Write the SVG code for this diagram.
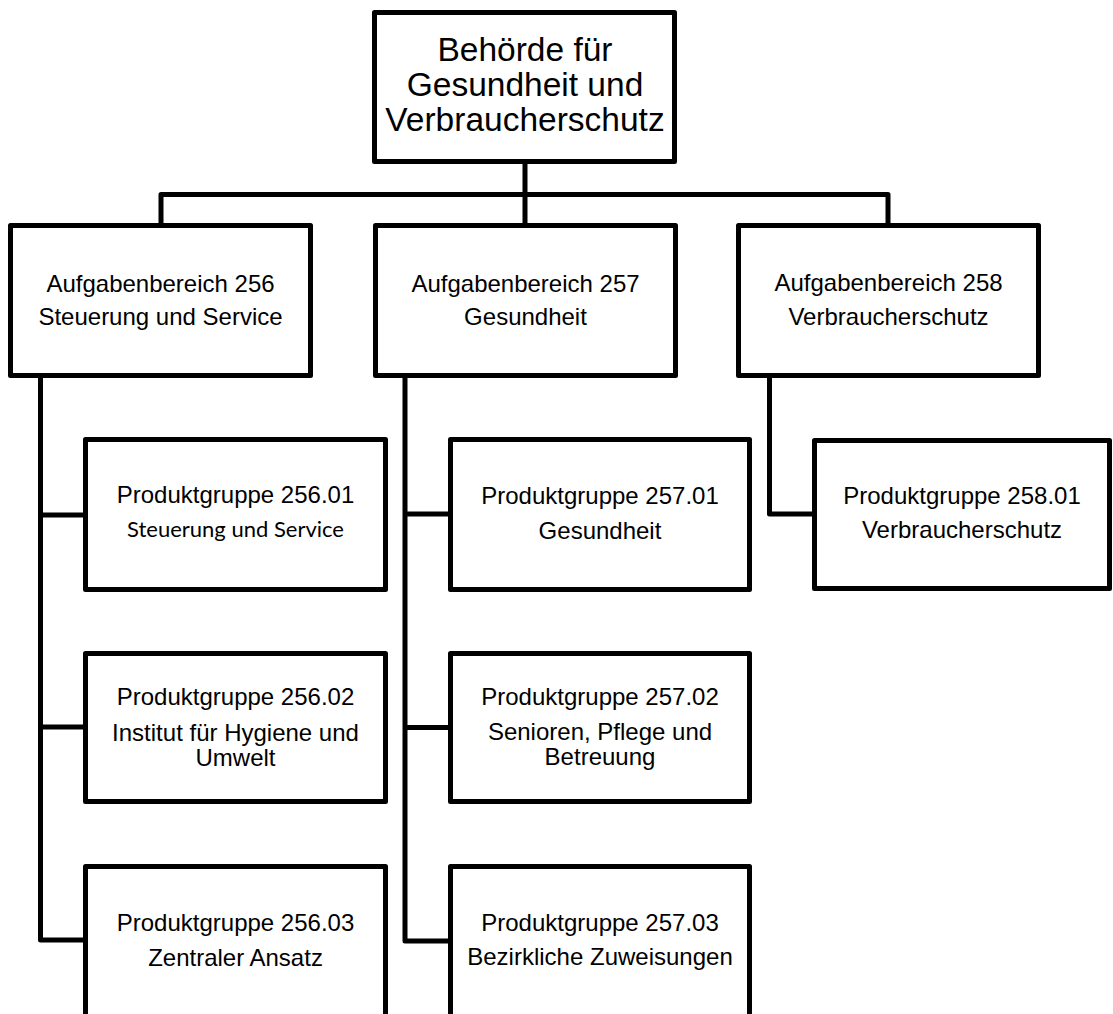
<svg xmlns="http://www.w3.org/2000/svg" width="1113" height="1014" viewBox="0 0 1113 1014">
<style>
.box{fill:#fff;stroke:#000;stroke-width:5;stroke-linejoin:round}
.con{fill:none;stroke:#000;stroke-width:5;stroke-linejoin:round;stroke-linecap:square}
text{font-family:"Liberation Sans",Arial,sans-serif;font-size:24px;fill:#000;text-anchor:middle}
.big{font-size:33.5px}
.cal{font-family:Lato,"Open Sans",sans-serif;font-size:22px}
</style>
<rect width="1113" height="1014" fill="#fff"/>
<g id="connectors">
<path class="con" d="M525,164 V223"/>
<path class="con" d="M161,223 V194.5 H888 V223"/>
<path class="con" d="M40.5,378 V940 H83 M40.5,515 H83 M40.5,727 H83"/>
<path class="con" d="M405,378 V941 H448 M405,514 H448 M405,727.5 H448"/>
<path class="con" d="M769.5,377 V514 H812"/>
</g>
<g id="n-root">
<rect class="box" x="374.5" y="12.5" width="300" height="149"/>
<text class="big" x="525" y="61">Behörde für</text>
<text class="big" x="525" y="96">Gesundheit und</text>
<text class="big" x="525" y="131">Verbraucherschutz</text>
</g>
<g id="n-256">
<rect class="box" x="10.5" y="225.5" width="300" height="150"/>
<text x="160.5" y="292">Aufgabenbereich 256</text>
<text x="160.5" y="325">Steuerung und Service</text>
</g>
<g id="n-257">
<rect class="box" x="375.5" y="225.5" width="300" height="150"/>
<text x="525.5" y="292">Aufgabenbereich 257</text>
<text x="525.5" y="325">Gesundheit</text>
</g>
<g id="n-258">
<rect class="box" x="738.5" y="225.5" width="300" height="150"/>
<text x="888.5" y="291">Aufgabenbereich 258</text>
<text x="888.5" y="325">Verbraucherschutz</text>
</g>
<g id="n-256-01">
<rect class="box" x="85.5" y="439.5" width="300" height="150"/>
<text x="235.5" y="503">Produktgruppe 256.01</text>
<text class="cal" x="235.5" y="537">Steuerung und Service</text>
</g>
<g id="n-256-02">
<rect class="box" x="85.5" y="653.5" width="300" height="148"/>
<text x="235.5" y="705">Produktgruppe 256.02</text>
<text x="235.5" y="741">Institut für Hygiene und</text>
<text x="235.5" y="766">Umwelt</text>
</g>
<g id="n-256-03">
<rect class="box" x="85.5" y="866.5" width="300" height="170"/>
<text x="235.5" y="931">Produktgruppe 256.03</text>
<text x="235.5" y="966">Zentraler Ansatz</text>
</g>
<g id="n-257-01">
<rect class="box" x="450.5" y="439.5" width="299" height="150"/>
<text x="600" y="504">Produktgruppe 257.01</text>
<text x="600" y="539">Gesundheit</text>
</g>
<g id="n-257-02">
<rect class="box" x="450.5" y="653.5" width="299" height="148"/>
<text x="600" y="705">Produktgruppe 257.02</text>
<text x="600" y="740">Senioren, Pflege und</text>
<text x="600" y="765">Betreuung</text>
</g>
<g id="n-257-03">
<rect class="box" x="450.5" y="866.5" width="299" height="170"/>
<text x="600" y="931">Produktgruppe 257.03</text>
<text x="600" y="965">Bezirkliche Zuweisungen</text>
</g>
<g id="n-258-01">
<rect class="box" x="814.5" y="440.5" width="295" height="148"/>
<text x="962" y="504">Produktgruppe 258.01</text>
<text x="962" y="538">Verbraucherschutz</text>
</g>
</svg>
